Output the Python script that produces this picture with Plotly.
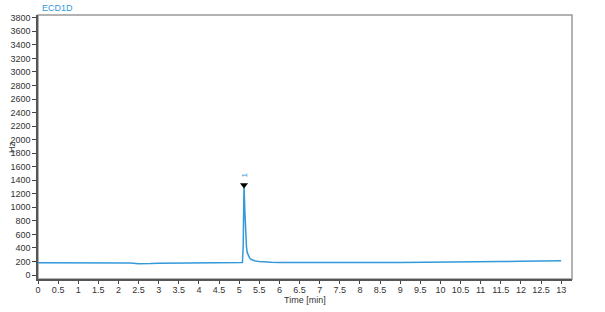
import plotly.graph_objects as go

time_min = [0.0, 0.5, 1.0, 1.5, 1.8, 1.85, 1.9, 2.0, 2.3, 2.5, 2.6, 2.8, 3.0, 3.5, 4.0, 4.5, 4.8, 5.0, 5.08,
            5.10, 5.12, 5.14, 5.16, 5.18, 5.20, 5.23, 5.26, 5.30, 5.35, 5.40, 5.50, 5.60, 5.80, 6.0, 6.5,
            7.0, 7.5, 8.0, 8.5, 9.0, 9.5, 10.0, 10.5, 11.0, 11.5, 12.0, 12.5, 13.0]
signal_hz = [180, 179, 179, 178, 180, 184, 179, 178, 176, 168, 166, 170, 174, 176, 178, 180, 180, 181, 185,
             450, 1330, 950, 600, 420, 330, 280, 250, 228, 215, 207, 198, 193, 188, 185, 183,
             182, 182, 183, 184, 185, 186, 188, 190, 193, 198, 203, 208, 212]

peak_time = [5.12]
peak_height = [1330]
peak_label = ["1"]

y_ticks = list(range(0, 3801, 200))
x_ticks = [i * 0.5 for i in range(27)]
x_labels = [("%g" % v) for v in x_ticks]

line_color = "#3399db"

fig = go.Figure()
fig.add_trace(go.Scatter(x=time_min, y=signal_hz, mode="lines",
                         line=dict(color=line_color, width=1.5), showlegend=False))
fig.add_trace(go.Scatter(x=peak_time, y=peak_height, mode="markers",
                         marker=dict(symbol="triangle-down", size=7, color="black"),
                         showlegend=False))

annotations = [
    dict(text="ECD1D", xref="paper", yref="paper", x=0.0, y=1.0, xanchor="left",
         yanchor="bottom", xshift=2, yshift=0, showarrow=False,
         font=dict(color=line_color, size=9)),
    dict(text="Time [min]", xref="paper", yref="paper", x=0.5, y=0, xanchor="center",
         yanchor="middle", yshift=-21, showarrow=False, font=dict(size=9)),
    dict(text="Hz", xref="paper", yref="paper", x=0, y=0.5, xanchor="center",
         yanchor="middle", xshift=-26, showarrow=False, textangle=-90, font=dict(size=9)),
]
for t, h, lab in zip(peak_time, peak_height, peak_label):
    annotations.append(dict(text=lab, x=t, y=h, xref="x", yref="y", showarrow=False,
                            textangle=-90, yanchor="bottom", yshift=5,
                            font=dict(color=line_color, size=8)))

fig.update_layout(
    width=605, height=312,
    margin=dict(l=38, r=33, t=15, b=33),
    paper_bgcolor="white", plot_bgcolor="white",
    font=dict(family="Liberation Sans, Arial", size=9, color="#333333"),
    annotations=annotations,
)
fig.update_xaxes(range=[0, 13.27], tickvals=x_ticks, ticktext=x_labels, ticks="outside",
                 ticklen=3, tickcolor="#444", showgrid=False, zeroline=False,
                 showline=True, linecolor="#555", linewidth=1.5, mirror=False,
                 automargin=False, ticklabelstandoff=-2)
fig.update_yaxes(range=[-59, 3841], tickvals=y_ticks, ticks="outside", ticklen=4,
                 tickcolor="#444", showgrid=False, zeroline=False,
                 showline=True, linecolor="#555", linewidth=1.5, automargin=False)
fig.add_shape(type="rect", xref="paper", yref="paper", x0=0, y0=0, x1=1, y1=1,
              line=dict(color="#999999", width=1.5), layer="below")

fig.write_html("out.html")
